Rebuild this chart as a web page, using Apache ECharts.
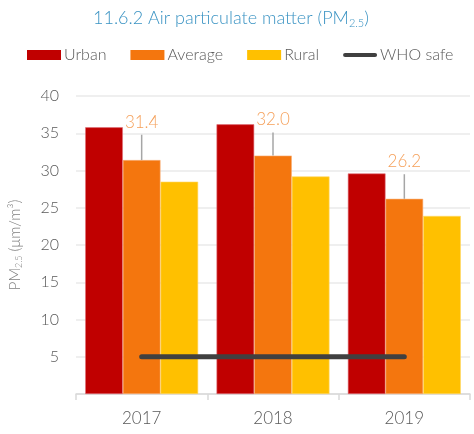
<!DOCTYPE html>
<html>
<head>
<meta charset="utf-8">
<script src="https://cdn.jsdelivr.net/npm/echarts@6/dist/echarts.min.js"></script>
<style>
  html, body { margin: 0; padding: 0; background: #fff; }
  #chart { width: 474px; height: 434px; }
</style>
</head>
<body>
<div id="chart"></div>
<script>
const years = ['2017', '2018', '2019'];
const urban = [35.8, 36.2, 29.6];
const average = [31.4, 32.0, 26.2];
const rural = [28.5, 29.2, 23.9];
const averageHigh = [34.8, 35.1, 29.5];
const whoSafe = [5, 5, 5];
const yTicks = [0, 5, 10, 15, 20, 25, 30, 35, 40];

const FONT = 'Lato';
const chart = echarts.init(document.getElementById('chart'));

const option = {
  backgroundColor: '#fff',
  animation: false,
  title: {
    text: '11.6.2 Air particulate matter (PM{sub|2.5})',
    left: 88,
    top: 3,
    textStyle: {
      color: '#3A93C3', fontSize: 18, fontWeight: 300, fontFamily: FONT,
      rich: { sub: { fontSize: 11, color: '#3A93C3', fontWeight: 300, fontFamily: FONT, padding: [10, 0, 0, 0] } }
    }
  },
  legend: {
    left: 22,
    top: 42,
    itemWidth: 34,
    itemHeight: 10,
    itemGap: 24,
    itemStyle: { borderWidth: 0 },
    textStyle: { color: '#595959', fontSize: 16, fontWeight: 300, fontFamily: FONT, padding: [0, 0, 0, -2] },
    data: [
      { name: 'Urban', icon: 'rect' },
      { name: 'Average', icon: 'rect' },
      { name: 'Rural', icon: 'rect' },
      { name: 'WHO safe', icon: 'path://M2,0 H32 A2,2 0 0 1 32,4 H2 A2,2 0 0 1 2,0 Z' }
    ]
  },
  grid: { left: 68, right: 4, top: 96, bottom: 40 },
  xAxis: {
    type: 'category',
    data: years,
    axisLine: { lineStyle: { color: '#d9d9d9', width: 1.5 } },
    axisTick: { show: true, length: 6, lineStyle: { color: '#d9d9d9', width: 1.5 } },
    axisLabel: { color: '#595959', fontSize: 17, fontWeight: 300, fontFamily: FONT, margin: 16 }
  },
  yAxis: {
    type: 'value',
    min: yTicks[0],
    max: yTicks[yTicks.length - 1],
    interval: 5,
    name: 'PM{sub|2.5} (μm/m³)',
    nameLocation: 'middle',
    nameGap: 52,
    nameTextStyle: {
      color: '#7f7f7f', fontSize: 15, fontWeight: 300, fontFamily: FONT,
      rich: { sub: { fontSize: 9, color: '#7f7f7f', fontFamily: FONT, padding: [8, 0, 0, 0] } }
    },
    axisLine: { show: false },
    axisTick: { show: false },
    axisLabel: {
      color: '#595959', fontSize: 16, fontWeight: 300, fontFamily: FONT, margin: 17,
      formatter: v => (v === 0 ? '' : String(v))
    },
    splitLine: { lineStyle: { color: '#efefef', width: 2 } }
  },
  series: [
    {
      name: 'Urban', type: 'bar', data: urban,
      barGap: '0%', barCategoryGap: '14%',
      itemStyle: { color: '#C00000', borderColor: '#e0707a', borderWidth: 0.6 }
    },
    {
      name: 'Average', type: 'bar', data: average,
      itemStyle: { color: '#F4760E', borderColor: '#f9b07a', borderWidth: 0.6 }
    },
    {
      name: 'Rural', type: 'bar', data: rural,
      itemStyle: { color: '#FFC000', borderColor: '#ffd966', borderWidth: 0.6 }
    },
    {
      name: 'error',
      type: 'custom',
      data: years.map((y, i) => [i, average[i], averageHigh[i]]),
      z: 5,
      renderItem: (params, api) => {
        const lo = api.coord([api.value(0), api.value(1)]);
        const hi = api.coord([api.value(0), api.value(2)]);
        return {
          type: 'group',
          children: [
            {
              type: 'line',
              shape: { x1: lo[0], y1: lo[1], x2: hi[0], y2: hi[1] },
              style: { stroke: '#a6a6a6', lineWidth: 1.5 }
            },
            {
              type: 'text',
              x: hi[0], y: hi[1] - 4,
              style: {
                text: api.value(1).toFixed(1),
                fill: '#F5A05A',
                font: '300 17px ' + FONT,
                textAlign: 'center',
                textVerticalAlign: 'bottom'
              }
            }
          ]
        };
      }
    },
    {
      name: 'WHO safe', type: 'line', data: whoSafe,
      symbol: 'none', z: 6,
      lineStyle: { color: '#404040', width: 5, cap: 'round' },
      itemStyle: { color: '#404040' }
    }
  ]
};

chart.setOption(option);
window.addEventListener('resize', () => chart.resize());
</script>
</body>
</html>
